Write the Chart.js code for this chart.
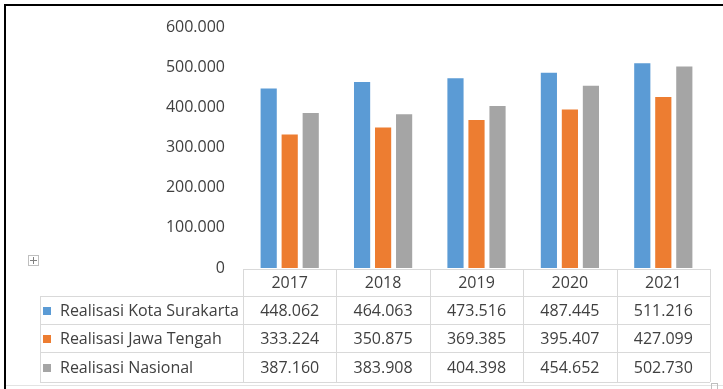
<!DOCTYPE html>
<html>
<head>
<meta charset="utf-8">
<script src="https://cdn.jsdelivr.net/npm/chart.js@4/dist/chart.umd.min.js"></script>
<style>
  html, body { margin: 0; padding: 0; background: #fff; }
  #wrap { position: relative; width: 723px; height: 389px; }
</style>
</head>
<body>
<div id="wrap"><canvas id="chart" width="723" height="389"></canvas></div>
<script>
/* ── Realisasi chart with data table ─────────────────────────────────────── */

const YEARS = ['2017', '2018', '2019', '2020', '2021'];
const SERIES_NAMES = ['Realisasi Kota Surakarta', 'Realisasi Jawa Tengah', 'Realisasi Nasional'];
const KOTA_SURAKARTA = [448062, 464063, 473516, 487445, 511216];
const JAWA_TENGAH    = [333224, 350875, 369385, 395407, 427099];
const NASIONAL       = [387160, 383908, 404398, 454652, 502730];
const Y_TICKS = [0, 100000, 200000, 300000, 400000, 500000, 600000];

const COLORS = ['#5B9BD5', '#ED7D31', '#A5A5A5'];
const FONT = '"Open Sans", "Liberation Sans", sans-serif';
const TEXT = '#404040';
const RULE = '#D9D9D9';

// Indonesian style thousands separator: 600000 -> 600.000
function fmt(v) {
  return v === 0 ? '0' : String(v).replace(/\B(?=(\d{3})+(?!\d))/g, '.');
}

// ── Data table, frame and handles drawn under the plot ─────────────────────
const tablePlugin = {
  id: 'dataTable',
  afterDraw(chart) {
    const { ctx, chartArea: a } = chart;
    const all = [KOTA_SURAKARTA, JAWA_TENGAH, NASIONAL];
    const colW = (a.right - a.left) / YEARS.length;
    const colX = YEARS.map((_, i) => a.left + i * colW).concat(a.right);
    const rowY = [a.bottom + 1, a.bottom + 28, a.bottom + 56, a.bottom + 84, a.bottom + 114];
    const leftX = 40;

    ctx.save();
    ctx.strokeStyle = RULE;
    ctx.lineWidth = 1;
    ctx.beginPath();
    // horizontal rules
    ctx.moveTo(a.left, rowY[0] + 0.5); ctx.lineTo(a.right, rowY[0] + 0.5);
    for (let r = 1; r < rowY.length; r++) {
      ctx.moveTo(leftX, rowY[r] + 0.5); ctx.lineTo(a.right, rowY[r] + 0.5);
    }
    // vertical rules
    ctx.moveTo(leftX + 0.5, rowY[1]); ctx.lineTo(leftX + 0.5, rowY[4]);
    colX.forEach(x => {
      ctx.moveTo(Math.round(x) + 0.5, rowY[0]); ctx.lineTo(Math.round(x) + 0.5, rowY[4]);
    });
    ctx.stroke();

    ctx.font = '16px ' + FONT;
    ctx.fillStyle = TEXT;
    ctx.textBaseline = 'middle';

    // header row: years
    ctx.textAlign = 'center';
    YEARS.forEach((y, i) => {
      ctx.fillText(y, colX[i] + colW / 2, (rowY[0] + rowY[1]) / 2 + 1);
    });

    // series rows
    all.forEach((vals, s) => {
      const cy = (rowY[s + 1] + rowY[s + 2]) / 2 + 1;
      ctx.fillStyle = COLORS[s];
      ctx.fillRect(43, cy - 4, 8, 8);
      ctx.fillStyle = TEXT;
      ctx.textAlign = 'left';
      ctx.fillText(SERIES_NAMES[s], 60, cy);
      ctx.textAlign = 'center';
      vals.forEach((v, i) => ctx.fillText(fmt(v), colX[i] + colW / 2, cy));
    });

    // outer frame: heavy top and left edges, light bottom edge
    ctx.fillStyle = '#000';
    ctx.fillRect(4, 4, 719, 2);
    ctx.fillRect(4, 4, 2, 385);
    ctx.fillStyle = '#E3E3E3';
    ctx.fillRect(6, 385, 717, 1);

    // table move handle
    ctx.strokeStyle = '#BFBFBF';
    ctx.strokeRect(28.5, 255.5, 10, 10);
    ctx.strokeStyle = '#7F7F7F';
    ctx.beginPath();
    ctx.moveTo(30, 260.5); ctx.lineTo(37, 260.5);
    ctx.moveTo(33.5, 257); ctx.lineTo(33.5, 264);
    ctx.stroke();

    // resize handle
    ctx.strokeStyle = '#BFBFBF';
    ctx.strokeRect(711.5, 383.5, 6, 6);
    ctx.restore();
  }
};

new Chart(document.getElementById('chart'), {
  type: 'bar',
  data: {
    labels: YEARS,
    datasets: [KOTA_SURAKARTA, JAWA_TENGAH, NASIONAL].map((d, i) => ({
      label: SERIES_NAMES[i],
      data: d,
      backgroundColor: COLORS[i],
      categoryPercentage: 0.675,
      barPercentage: 0.77,
    })),
  },
  options: {
    responsive: false,
    animation: false,
    layout: { padding: { left: 0, right: 13, top: 26, bottom: 121 } },
    plugins: { legend: { display: false }, tooltip: { enabled: false } },
    scales: {
      x: { display: false },
      y: {
        min: 0, max: 600000,
        afterBuildTicks: s => { s.ticks = Y_TICKS.map(v => ({ value: v })); },
        afterFit: s => { s.width = 243; },
        grid: { display: false, drawTicks: false },
        border: { display: false },
        ticks: {
          padding: 18,
          color: TEXT,
          font: { family: FONT, size: 16 },
          callback: v => fmt(v),
        },
      },
    },
  },
  plugins: [tablePlugin],
});
</script>
</body>
</html>
